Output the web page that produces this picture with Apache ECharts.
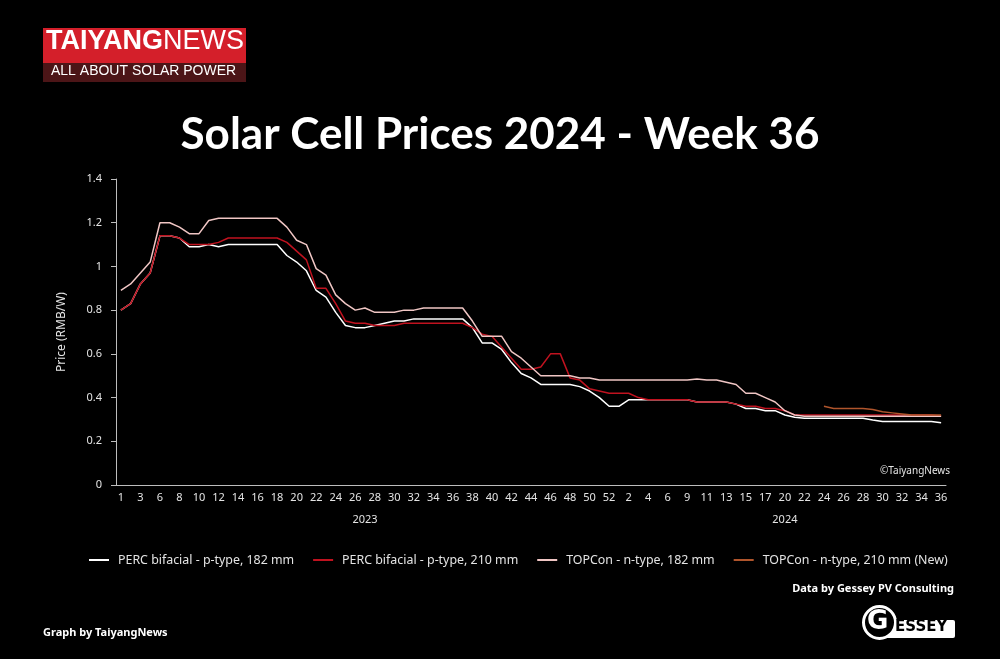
<!DOCTYPE html>
<html><head><meta charset="utf-8">
<script src="https://cdn.jsdelivr.net/npm/echarts@6/dist/echarts.min.js"></script>
<style>html,body{margin:0;padding:0;background:#000;}#c{width:1000px;height:659px;}</style>
</head><body><div id="c"></div>
<script>
// Week categories (holiday weeks are absent)
const weeks2023 = [1,2,3,5,6,7,8,9,10,11,12,13,14,15,16,17,18,19,20,21,22,23,24,25,26,27,28,29,30,31,32,33,34,35,36,37,38,39,40,41,42,43,44,45,46,47,48,49,50,51,52];
const weeks2024 = [1,2,3,4,5,6,8,9,10,11,12,13,14,15,16,17,18,20,21,22,23,24,25,26,27,28,29,30,31,32,33,34,35,36];
const years = ['2023', '2024'];

// Series values (RMB/W)
const perc182 = [
  0.80,0.83,0.92,0.97,1.14,1.14,1.13,1.09,1.09,1.10,
  1.09,1.10,1.10,1.10,1.10,1.10,1.10,1.05,1.02,0.98,
  0.89,0.86,0.79,0.73,0.72,0.72,0.73,0.74,0.75,0.75,
  0.76,0.76,0.76,0.76,0.76,0.76,0.72,0.65,0.65,0.62,
  0.56,0.51,0.49,0.46,0.46,0.46,0.46,0.45,0.43,0.40,
  0.36,0.36,0.39,0.39,0.39,0.39,0.39,0.39,0.39,0.38,
  0.38,0.38,0.38,0.37,0.35,0.35,0.34,0.34,0.32,0.31,
  0.305,0.305,0.305,0.305,0.305,0.305,0.305,0.297,0.29,0.29,
  0.29,0.29,0.29,0.29,0.285];
const perc210 = [
  0.80,0.83,0.92,0.97,1.14,1.14,1.13,1.10,1.10,1.10,
  1.11,1.13,1.13,1.13,1.13,1.13,1.13,1.11,1.07,1.03,
  0.90,0.90,0.83,0.75,0.74,0.74,0.73,0.73,0.73,0.74,
  0.74,0.74,0.74,0.74,0.74,0.74,0.72,0.69,0.68,0.63,
  0.58,0.53,0.53,0.54,0.60,0.60,0.49,0.48,0.44,0.43,
  0.42,0.42,0.42,0.40,0.39,0.39,0.39,0.39,0.39,0.38,
  0.38,0.38,0.38,0.37,0.36,0.36,0.35,0.35,0.34,0.32,
  0.32,0.32,0.32,0.32,0.32,0.32,0.32,0.32,0.32,0.32,
  0.32,0.32,0.32,0.32,0.315];
const topcon182 = [
  0.89,0.92,0.97,1.02,1.20,1.20,1.18,1.15,1.15,1.21,
  1.22,1.22,1.22,1.22,1.22,1.22,1.22,1.18,1.12,1.10,
  0.99,0.96,0.87,0.83,0.80,0.81,0.79,0.79,0.79,0.80,
  0.80,0.81,0.81,0.81,0.81,0.81,0.75,0.68,0.68,0.68,
  0.61,0.58,0.54,0.50,0.50,0.50,0.50,0.49,0.49,0.48,
  0.48,0.48,0.48,0.48,0.48,0.48,0.48,0.48,0.48,0.485,
  0.48,0.48,0.47,0.46,0.42,0.42,0.40,0.38,0.34,0.32,
  0.315,0.315,0.315,0.315,0.315,0.315,0.315,0.315,0.315,0.315,
  0.315,0.315,0.315,0.315,0.315];
const topcon210Start = '2024-24';
const topcon210 = [0.36,0.35,0.35,0.35,0.35,0.345,0.335,0.33,0.325,0.32,0.32,0.32,0.32];

const seriesNames = ['PERC bifacial - p-type, 182 mm','PERC bifacial - p-type, 210 mm','TOPCon - n-type, 182 mm','TOPCon - n-type, 210 mm (New)'];
const seriesColors = ['#ffffff','#c0121f','#f0c6c4','#b0552c'];
const yTicks = {min: 0, max: 1.4, step: 0.2};

// Build category table
const categories = weeks2023.map(w => years[0] + '-' + w).concat(weeks2024.map(w => years[1] + '-' + w));
const startIdx = categories.indexOf(topcon210Start);
const topcon210Data = categories.map((c, i) => {
  const k = i - startIdx;
  return (k >= 0 && k < topcon210.length) ? topcon210[k] : null;
});
const yearMids = [Math.floor((weeks2023.length - 1) / 2), weeks2023.length + Math.ceil((weeks2024.length - 1) / 2)];

const FONT = 'Noto Sans';
const labelColor = '#e4e4e4';
const axisColor = '#bdbdbd';

const chart = echarts.init(document.getElementById('c'), null, {renderer: 'canvas'});
const allData = [perc182, perc210, topcon182, topcon210Data];
chart.setOption({
  backgroundColor: '#000',
  animation: false,
  title: {
    text: 'Solar Cell Prices 2024 - Week 36',
    left: 'center', top: 108,
    textStyle: {color: '#fff', fontSize: 44, fontWeight: 'bold', fontFamily: 'Lato'}
  },
  grid: {left: 116, top: 179, width: 830, height: 306, containLabel: false},
  legend: {
    left: 84, top: 549,
    icon: 'rect', itemWidth: 20, itemHeight: 2, itemGap: 19,
    textStyle: {color: labelColor, fontSize: 12.4, fontFamily: FONT, padding: [0, 0, 0, 4]},
    data: seriesNames
  },
  xAxis: [{
    type: 'category', data: categories, boundaryGap: true,
    axisLine: {lineStyle: {color: axisColor, width: 1}},
    axisTick: {show: false},
    axisLabel: {
      interval: (i) => i % 2 === 0,
      formatter: (v) => v.split('-')[1],
      color: labelColor, fontSize: 11, fontFamily: FONT, margin: 7
    },
    splitLine: {show: false}
  }, {
    type: 'category', data: categories, boundaryGap: true, position: 'bottom', offset: 22,
    axisLine: {show: false}, axisTick: {show: false},
    axisLabel: {
      interval: (i) => yearMids.indexOf(i) >= 0,
      formatter: (v) => v.split('-')[0],
      color: labelColor, fontSize: 11, fontFamily: FONT, margin: 7
    },
    splitLine: {show: false}
  }],
  yAxis: {
    type: 'value', min: yTicks.min, max: yTicks.max, interval: yTicks.step,
    name: 'Price (RMB/W)', nameLocation: 'middle', nameGap: 48,
    nameTextStyle: {color: labelColor, fontSize: 12, fontFamily: FONT},
    axisLine: {show: true, lineStyle: {color: axisColor, width: 1}},
    axisTick: {show: true, length: 5, lineStyle: {color: axisColor}},
    axisLabel: {color: labelColor, fontSize: 11, fontFamily: FONT, margin: 14},
    splitLine: {show: false}
  },
  series: seriesNames.map((n, k) => ({
    name: n, type: 'line', data: allData[k], symbol: 'none', showSymbol: false,
    lineStyle: {color: seriesColors[k], width: 1.5},
    itemStyle: {color: seriesColors[k]},
    connectNulls: false
  })),
  graphic: [
    {type: 'rect', left: 43, top: 28, shape: {width: 203, height: 35}, style: {fill: '#d41f2a'}},
    {type: 'rect', left: 43, top: 63, shape: {width: 203, height: 19}, style: {fill: '#4c1517'}},
    {type: 'text', left: 46, top: 28, style: {
      text: '{b|TAIYANG}{n|NEWS}',
      rich: {
        b: {fill: '#fff', fontSize: 27, fontWeight: 'bold', fontFamily: 'Liberation Sans'},
        n: {fill: '#fff', fontSize: 27, fontWeight: 'normal', fontFamily: 'Liberation Sans'}
      }}},
    {type: 'text', left: 51, top: 64, style: {text: 'ALL ABOUT SOLAR POWER', fill: '#fff', fontSize: 14, fontFamily: 'Liberation Sans'}},
    {type: 'text', right: 50, top: 466, style: {text: '©TaiyangNews', fill: labelColor, fontSize: 10, fontFamily: FONT}},
    {type: 'text', right: 46, top: 583, style: {text: 'Data by Gessey PV Consulting', fill: '#fff', fontSize: 11, fontWeight: 'bold', fontFamily: FONT}},
    {type: 'text', left: 43, top: 627, style: {text: 'Graph by TaiyangNews', fill: '#fff', fontSize: 11, fontWeight: 'bold', fontFamily: FONT}},
    {type: 'rect', left: 880, top: 620, shape: {width: 75, height: 18, r: 2}, style: {fill: '#fff'}},
    {type: 'circle', left: 862, top: 605, shape: {r: 16}, style: {fill: '#000', stroke: '#fff', lineWidth: 3}},
    {type: 'text', left: 867, top: 609, style: {text: 'G', fill: '#fff', fontSize: 26, fontWeight: 'bold', fontFamily: 'DejaVu Sans'}},
    {type: 'text', left: 895, top: 620, style: {text: 'ESSEY', fill: '#000', fontSize: 15, fontWeight: 'bold', fontFamily: 'DejaVu Sans'}}
  ]
});
</script>
</body></html>
